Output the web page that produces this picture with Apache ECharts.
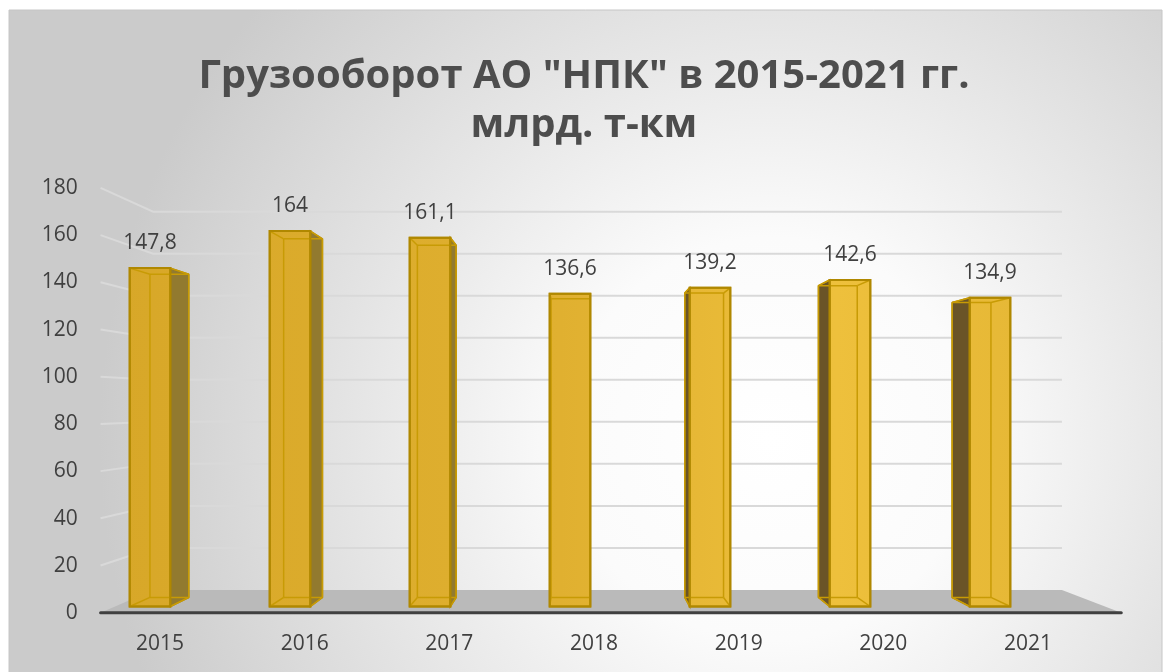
<!DOCTYPE html>
<html>
<head>
    <meta charset="utf-8">
    <script src="https://cdn.jsdelivr.net/npm/echarts@6/dist/echarts.min.js"></script>
    <style>html, body { margin: 0; padding: 0; background: #fff; }</style>
</head>
<body>
<div id="main" style="width: 1168px; height: 672px"></div>
<script type="text/javascript">
    var years = ['2015', '2016', '2017', '2018', '2019', '2020', '2021'];
    var values = [147.8, 164, 161.1, 136.6, 139.2, 142.6, 134.9];
    var yTicks = [0, 20, 40, 60, 80, 100, 120, 140, 160, 180];

    // fake 3d: vanishing point + depth ratios relative to the bar front plane
    var VX = 580, VY = 405;
    var K_FRONT = 1.031, K_BACK = 0.918, K_BAR = 0.955;
    function proj(x, y, k) {
        return [VX + (x - VX) * k, VY + (y - VY) * k];
    }

    var font = '"Open Sans", "DejaVu Sans", sans-serif';
    var txt = '#404040';
    var faceFill = new echarts.graphic.LinearGradient(100, 0, 1020, 0, [
        {offset: 0, color: '#d7a728'},
        {offset: 0.5, color: '#e0b030'},
        {offset: 0.8, color: '#eec03c'},
        {offset: 1, color: '#e6b836'}
    ], true);

    function renderWall(params, api) {
        var v = api.value(1);
        var cs = params.coordSys;
        var y = api.coord([0, v])[1];
        var xl = cs.x + 35, xr = cs.x + cs.width + 45;
        if (v === 0) {
            var a = proj(xl, y, K_FRONT), b = proj(xl, y, K_BACK),
                c = proj(xr, y, K_BACK), d = proj(xr, y, K_FRONT);
            return {
                type: 'group', children: [
                    {type: 'polygon', shape: {points: [a, b, c, d]}, style: {fill: '#bababa'}},
                    {type: 'line', shape: {x1: a[0], y1: a[1], x2: d[0], y2: d[1]},
                        style: {stroke: '#404040', lineWidth: 3, lineCap: 'round'}}
                ]
            };
        }
        var f = proj(xl, y, K_FRONT), bl = proj(xl, y, K_BACK), br = proj(xr, y, K_BACK);
        return {
            type: 'polyline', shape: {points: [f, bl, br]},
            style: {stroke: '#d9d9d9', lineWidth: 2, fill: null}
        };
    }

    function renderBar(params, api) {
        var i = api.value(0), v = api.value(1);
        var top = api.coord([i, v]), base = api.coord([i, 0]);
        var w = api.size([1, 0])[0] * 0.29;
        var xl = top[0] - w / 2, xr = top[0] + w / 2, yt = top[1], yb = base[1];
        var blt = proj(xl, yt, K_BAR), brt = proj(xr, yt, K_BAR),
            brb = proj(xr, yb, K_BAR), blb = proj(xl, yb, K_BAR);
        var edge = '#b08800', inner = '#c89b05';
        var side = top[0] < VX
            ? {points: [[xr, yt], brt, brb, [xr, yb]], fill: '#927a2f'}
            : {points: [[xl, yt], blt, blb, [xl, yb]], fill: '#6a5427'};
        function ln(p, q) {
            return {type: 'line', shape: {x1: p[0], y1: p[1], x2: q[0], y2: q[1]},
                style: {stroke: inner, lineWidth: 1.5}};
        }
        return {
            type: 'group', children: [
                {type: 'polygon', shape: {points: side.points},
                    style: {fill: side.fill, stroke: edge, lineWidth: 1.5}},
                {type: 'rect', shape: {x: xl, y: yt, width: w, height: yb - yt},
                    style: {fill: faceFill, stroke: edge, lineWidth: 2}},
                ln(blt, brt), ln(brt, brb), ln(brb, blb), ln(blb, blt),
                ln([xl, yt], blt), ln([xr, yt], brt), ln([xr, yb], brb), ln([xl, yb], blb),
                {type: 'rect', shape: {x: xl, y: yt, width: w, height: yb - yt},
                    style: {fill: null, stroke: edge, lineWidth: 2}},
                {type: 'text', x: top[0], y: yt - 25,
                    style: {text: String(v).replace('.', ','), fontSize: 21, fontFamily: font,
                        fill: txt, align: 'center', verticalAlign: 'middle'}}
            ]
        };
    }

    var myChart = echarts.init(document.getElementById('main'));
    var option = {
        animation: false,
        graphic: [{
            type: 'rect', z: -10, silent: true,
            shape: {x: 9, y: 10, width: 1153, height: 670},
            style: {
                fill: new echarts.graphic.RadialGradient(0.66, 0.64, 1.0, [
                    {offset: 0, color: '#ffffff'},
                    {offset: 0.3, color: '#fbfbfb'},
                    {offset: 1, color: '#cbcbcb'}
                ]),
                stroke: '#c6c6c6', lineWidth: 1
            }
        }],
        title: {
            text: 'Грузооборот АО "НПК" в 2015-2021 гг.\nмлрд. т-км',
            left: 'center', top: 47,
            textStyle: {fontFamily: font, fontSize: 40, fontWeight: 'bold', color: '#4d4d4d', lineHeight: 49}
        },
        grid: [
            {left: 80, width: 980, top: 194.4, bottom: 65.5},
            {left: 87.7, right: 67.7, top: 188, bottom: 59}
        ],
        xAxis: [
            {type: 'category', gridIndex: 0, data: years, show: false},
            {
                type: 'category', gridIndex: 1, data: years,
                axisLine: {show: false}, axisTick: {show: false},
                axisLabel: {fontSize: 21, fontFamily: font, color: txt, margin: 21}
            }
        ],
        yAxis: [
            {type: 'value', gridIndex: 0, min: 0, max: 180, interval: 20, show: false},
            {
                type: 'value', gridIndex: 1, min: 0, max: 180, interval: 20,
                axisLine: {show: false}, axisTick: {show: false}, splitLine: {show: false},
                axisLabel: {fontSize: 21, fontFamily: font, color: txt, margin: 10}
            }
        ],
        series: [
            {
                type: 'custom', xAxisIndex: 0, yAxisIndex: 0, z: 1, clip: false,
                renderItem: renderWall,
                data: yTicks.map(function (t) { return [0, t]; })
            },
            {
                type: 'custom', xAxisIndex: 0, yAxisIndex: 0, z: 3, clip: false,
                renderItem: renderBar,
                data: values.map(function (v, i) { return [i, v]; })
            }
        ]
    };
    myChart.setOption(option);
</script>
</body>
</html>
